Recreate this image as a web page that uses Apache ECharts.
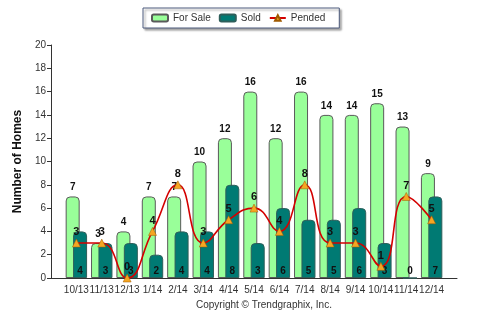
<!DOCTYPE html>
<html><head><meta charset="utf-8">
<script src="https://cdn.jsdelivr.net/npm/echarts@6/dist/echarts.min.js"></script>
<style>html,body{margin:0;padding:0;background:#fff}#c{width:497px;height:327px}</style>
</head><body><div id="c"></div>
<script>
const categories = ['10/13','11/13','12/13','1/14','2/14','3/14','4/14','5/14','6/14','7/14','8/14','9/14','10/14','11/14','12/14'];
const forSale = [7,3,4,7,7,10,12,16,12,16,14,14,15,13,9];
const sold = [4,3,3,2,4,4,8,3,6,5,5,6,3,0,7];
const pended = [3,3,0,4,8,3,5,6,4,8,3,3,1,7,5];
const yTicks = [0,2,4,6,8,10,12,14,16,18,20];

const pad = arr => [null, ...arr, null];
const font = 'Liberation Sans, Arial, sans-serif';
const chart = echarts.init(document.getElementById('c'));
chart.setOption({
  animation: false,
  textStyle: { fontFamily: font },
  grid: { left: 51, right: 40, top: 45, bottom: 49 },
  legend: {
    left: 143, top: 8, orient: 'horizontal',
    padding: [5, 14, 5, 8],
    itemGap: 8, itemWidth: 16, itemHeight: 7,
    borderColor: '#4d5b7c', borderWidth: 1, backgroundColor: '#fff',
    shadowColor: 'rgba(0,0,0,0.35)', shadowBlur: 2, shadowOffsetX: 2, shadowOffsetY: 2,
    textStyle: { fontSize: 10, color: '#333', fontFamily: font },
    data: ['For Sale', 'Sold', 'Pended']
  },
  xAxis: {
    type: 'category', boundaryGap: false, data: ['', ...categories, ''],
    axisLine: { lineStyle: { color: '#333' } },
    axisTick: { show: false },
    axisLabel: { color: '#333', fontSize: 10, margin: 7, interval: 0 }
  },
  yAxis: {
    type: 'value', min: yTicks[0], max: yTicks[yTicks.length-1], interval: 2,
    name: 'Number of Homes', nameLocation: 'middle', nameGap: 25,
    nameTextStyle: { fontSize: 12, fontWeight: 'bold', color: '#111' },
    axisLine: { show: true, lineStyle: { color: '#333' } },
    axisTick: { show: true, length: 4, lineStyle: { color: '#333' } },
    axisLabel: { color: '#333', fontSize: 10, margin: 5 },
    splitLine: { show: false }
  },
  graphic: [{
    type: 'text', left: 196, top: 300,
    style: { text: 'Copyright \u00A9 Trendgraphix, Inc.', fontSize: 10, fill: '#333', fontFamily: font }
  }],
  series: [
    {
      name: 'For Sale', type: 'bar', data: pad(forSale), barWidth: 14, barGap: '-47%',
      itemStyle: { color: '#99ff99', borderColor: '#5a5a5a', borderWidth: 1, borderRadius: [4,4,0,0] },
      label: { show: true, position: 'top', distance: 4, fontSize: 10, fontWeight: 'bold', color: '#111' }
    },
    {
      name: 'Sold', type: 'bar', data: pad(sold), barWidth: 14,
      itemStyle: { color: '#007a73', borderColor: '#2e5e5a', borderWidth: 1, borderRadius: [4,4,0,0] },
      label: { show: true, position: 'insideBottom', distance: 2, fontSize: 10, fontWeight: 'bold', color: '#111' }
    },
    {
      name: 'Pended', type: 'line', data: pad(pended), smooth: 0.5,
      lineStyle: { color: '#d40000', width: 1.6 },
      itemStyle: { color: '#f5a623', borderColor: '#a05a00', borderWidth: 0.5 },
      symbol: 'triangle', symbolSize: 8, showAllSymbol: true, z: 5,
      label: { show: true, position: 'top', distance: 1, fontSize: 11, fontWeight: 'bold', color: '#111' }
    }
  ]
});
</script></body></html>
